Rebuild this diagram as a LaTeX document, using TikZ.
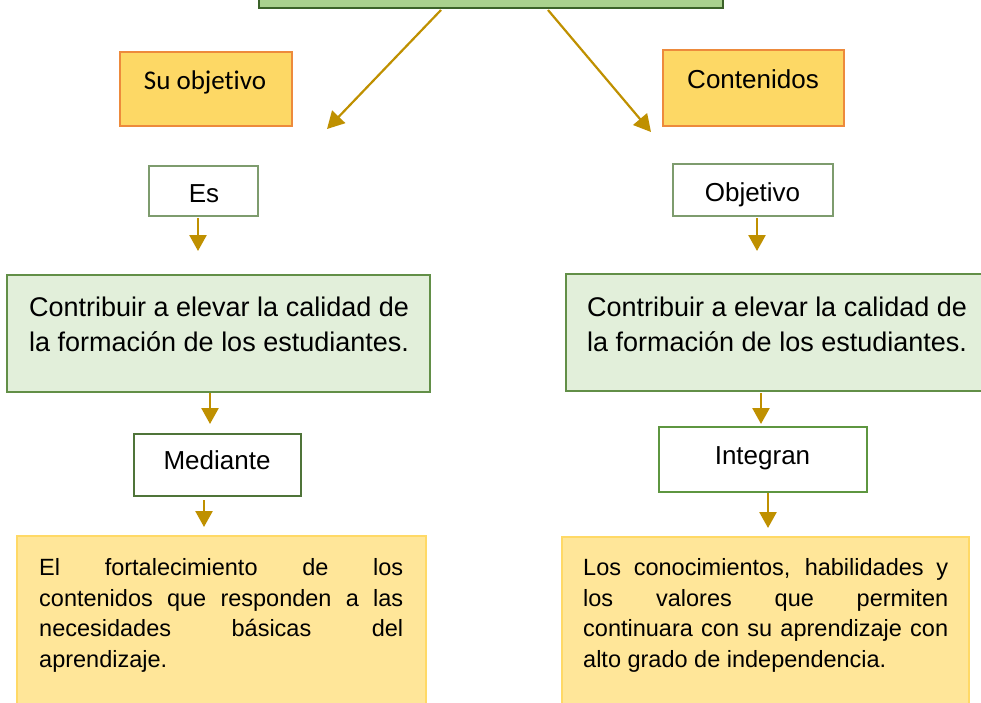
\documentclass[tikz,border=0pt]{standalone}
\usepackage{fontspec}
\setmainfont{Liberation Sans}
\newfontfamily\carlitofont[Ligatures=CommonOff]{Carlito}
\usetikzlibrary{arrows.meta}
\definecolor{arrowc}{HTML}{BF9000}
\definecolor{topfill}{HTML}{A9D18E}
\definecolor{topline}{HTML}{3B6229}
\definecolor{goldfill}{HTML}{FDD865}
\definecolor{orangeline}{HTML}{ED8A3C}
\definecolor{greyline}{HTML}{7E9C6E}
\definecolor{lgfill}{HTML}{E2EFDA}
\definecolor{lgline}{HTML}{628F47}
\definecolor{dgline}{HTML}{4F7439}
\definecolor{igline}{HTML}{5E9640}
\definecolor{yfill}{HTML}{FFE699}
\definecolor{yline}{HTML}{FFD966}
\tikzset{
  box/.style={anchor=north west, inner sep=0pt, outer sep=0pt},
  arr/.style={draw=arrowc, line width=2.6pt, -{Triangle[width=17pt,length=16pt]}},
  darr/.style={draw=arrowc, line width=2.2pt, -{Triangle[width=18pt,length=17pt]}},
  word/.style={anchor=base, inner sep=0pt, font=\fontsize{26}{30}\selectfont},
  gtext/.style={anchor=north west, inner sep=0pt, align=left, font=\fontsize{27}{35}\selectfont},
  ytext/.style={anchor=north west, inner sep=0pt, align=left, font=\fontsize{23.5}{30.5}\selectfont},
}
\begin{document}
\begin{tikzpicture}[x=1pt,y=-1pt]
\useasboundingbox (0,0) rectangle (981,702);
\clip (0,0) rectangle (981,702);
% top box
\node[box, draw=topline, fill=topfill, line width=2.5pt, minimum width=464pt, minimum height=48pt] (top) at (259,-40) {};
% orange boxes
\node[box, draw=orangeline, fill=goldfill, line width=1.3pt, minimum width=172pt, minimum height=74pt] (suobj) at (120,52) {};
\node[anchor=base, inner sep=0pt, font=\carlitofont\fontsize{27}{30}\selectfont] (suobjt) at (205,89) {Su objetivo};
\node[box, draw=orangeline, fill=goldfill, line width=2.5pt, minimum width=181pt, minimum height=76pt] (cont) at (663,50) {};
\node[word] (contt) at (753,88) {Contenidos};
% Es / Objetivo
\node[box, draw=greyline, fill=white, line width=1.2pt, minimum width=109pt, minimum height=50pt] (es) at (149,166) {};
\node[word] (est) at (204,202) {Es};
\node[box, draw=greyline, fill=white, line width=1.2pt, minimum width=160pt, minimum height=52pt] (obj) at (673,164) {};
\node[word] (objt) at (752.5,201) {Objetivo};
% green boxes
\node[box, draw=lgline, fill=lgfill, line width=2pt, minimum width=423pt, minimum height=117pt] (gl) at (7,275) {};
\node[gtext] (glt) at (29,297) {Contribuir a elevar la calidad de\\la formación de los estudiantes.};
\node[box, draw=lgline, fill=lgfill, line width=2pt, minimum width=440pt, minimum height=117pt] (gr) at (566,274) {};
\node[gtext] (grt) at (587,297) {Contribuir a elevar la calidad de\\la formación de los estudiantes.};
% Mediante / Integran
\node[box, draw=dgline, fill=white, line width=1.5pt, minimum width=167pt, minimum height=62pt] (med) at (134,434) {};
\node[word] (medt) at (217,469) {Mediante};
\node[box, draw=igline, fill=white, line width=2.5pt, minimum width=208pt, minimum height=65pt] (int) at (659,427) {};
\node[word] (intt) at (762.5,464) {Integran};
% yellow boxes
\node[box, draw=yline, fill=yfill, line width=2pt, minimum width=409pt, minimum height=190pt] (yl) at (17,536) {};
\node[ytext] (ylt) at (39,558.5) {\makebox[364pt][s]{El fortalecimiento de los}\\
  \makebox[364pt][s]{contenidos que responden a las}\\
  \makebox[364pt][s]{necesidades básicas del}\\
  aprendizaje.};
\node[box, draw=yline, fill=yfill, line width=2pt, minimum width=407pt, minimum height=190pt] (yr) at (562,537) {};
\node[ytext] (yrt) at (583,558.5) {\makebox[365pt][s]{Los conocimientos, habilidades y}\\
  \makebox[365pt][s]{los valores que permiten}\\
  \makebox[365pt][s]{continuara con su aprendizaje con}\\
  alto grado de independencia.};
% arrow coordinates
\coordinate (d1s) at (441,10);
\coordinate (d1e) at (327,129);
\coordinate (d2s) at (548,10);
\coordinate (d2e) at (651,132);
\coordinate (v1s) at (198,218);
\coordinate (v1e) at (198,251);
\coordinate (v2s) at (757,218);
\coordinate (v2e) at (757,251);
\coordinate (v3s) at (210,393);
\coordinate (v3e) at (210,424);
\coordinate (v4s) at (761,393);
\coordinate (v4e) at (761,424);
\coordinate (v5s) at (204,500);
\coordinate (v5e) at (204,527);
\coordinate (v6s) at (768,493);
\coordinate (v6e) at (768,528);
\draw[darr] (d1s) -- (d1e);
\draw[darr] (d2s) -- (d2e);
\draw[arr] (v1s) -- (v1e);
\draw[arr] (v2s) -- (v2e);
\draw[arr] (v3s) -- (v3e);
\draw[arr] (v4s) -- (v4e);
\draw[arr] (v5s) -- (v5e);
\draw[arr] (v6s) -- (v6e);
\end{tikzpicture}
\end{document}
